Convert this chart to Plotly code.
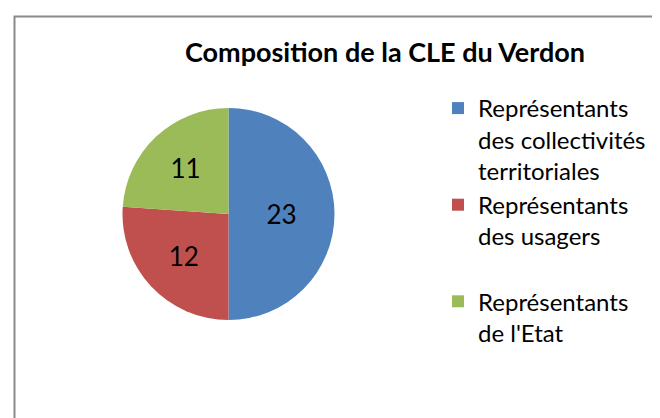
import plotly.graph_objects as go

categories = ["Représentants<br>des collectivités<br>territoriales",
              "Représentants<br>des usagers<br> ",
              "Représentants<br>de l'Etat"]
values = [23, 12, 11]
colors = ["#4F81BD", "#C0504D", "#9BBB59"]
title_text = "Composition de la CLE du Verdon"

W, H = 660, 418

fig = go.Figure(go.Pie(
    labels=categories,
    values=values,
    marker=dict(colors=colors, line=dict(color="white", width=0)),
    sort=False,
    direction="clockwise",
    rotation=0,
    textinfo="value",
    textposition="inside",
    insidetextorientation="horizontal",
    textfont=dict(family="Lato", size=26, color="black"),
    domain=dict(x=[63 / W, 378 / W], y=[1 - 312 / H, 1 - 100 / H]),
    hoverinfo="label+value",
))

fig.update_layout(
    width=W, height=H,
    margin=dict(l=0, r=0, t=0, b=0),
    paper_bgcolor="white",
    plot_bgcolor="white",
    title=dict(text="<b>" + title_text + "</b>", x=377 / W, xanchor="center",
               y=1 - 45 / H, yanchor="middle",
               font=dict(family="Lato", size=27, color="black")),
    legend=dict(x=430 / W, y=1 - 78 / H, xanchor="left", yanchor="top",
                valign="top", font=dict(family="Lato", size=24, color="black"),
                bgcolor="rgba(0,0,0,0)", tracegroupgap=0),
    shapes=[dict(type="rect", xref="paper", yref="paper",
                 x0=6.5 / W, x1=1.2, y0=-0.2, y1=1 - 8.5 / H,
                 line=dict(color="#8A8A8A", width=2), layer="above")],
)

fig.write_html("out.html")
